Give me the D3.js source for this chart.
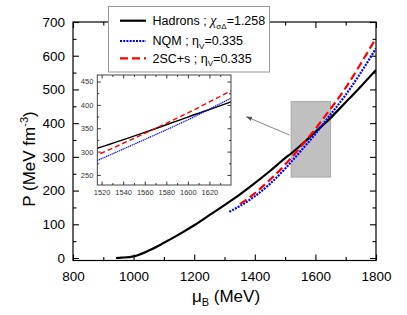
<!DOCTYPE html>
<html><head><meta charset="utf-8">
<script src="https://cdn.jsdelivr.net/npm/d3@7"></script>
<style>body{margin:0;background:#fff}svg{display:block;font-family:"Liberation Sans",Arial,sans-serif}</style>
</head><body><svg id="c" width="407" height="315"></svg>
<script>
// ---- data ----
const hadronMu = [942,960,1000,1050,1100,1150,1200,1250,1300,1350,1400,1450,1500,1520,1560,1600,1638,1700,1750,1800];
const hadronP  = [0,1,5,22,45,70,97,127,157,188,222,258,296,310,341,374,405,462,509,558];
const nqmMu    = [1316,1350,1400,1450,1500,1520,1560,1600,1638,1700,1750,1800];
const nqmP     = [137,154,183,220,265,285,326,368,412,484,550,622];
const scMu     = [1351,1400,1450,1500,1520,1560,1600,1638,1700,1750,1800];
const scP      = [160,192,232,277,297,339,383,428,505,577,652];
const xTicks   = [800,1000,1200,1400,1600,1800];
const yTicks   = [0,100,200,300,400,500,600,700];
const insetXTicks = [1520,1540,1560,1580,1600,1620];
const insetYTicks = [250,300,350,400,450];
const zoomBox  = {mu:[1520,1650], p:[240,464]};
const seriesNames = ["Hadrons","NQM","2SC+s"];

const svg = d3.select("#c");
const L=73, R=376, T=22, B=260.5;
const x = d3.scaleLinear().domain([800,1800]).range([L,R]);
const y = d3.scaleLinear().domain([-7.4,700]).range([B,T]);

const series = [
  {name:seriesNames[0], mu:hadronMu, p:hadronP, color:"#000", dash:null, w:2.2, iw:1.4},
  {name:seriesNames[1], mu:nqmMu, p:nqmP, color:"#0000ff", dash:"2,1.2", w:2.2, iw:1.2},
  {name:seriesNames[2], mu:scMu, p:scP, color:"#ff0000", dash:"8,4", w:2.2, iw:1.4}
];

// frame
svg.append("rect").attr("x",L).attr("y",T).attr("width",R-L).attr("height",B-T)
  .attr("fill","none").attr("stroke","#000").attr("stroke-width",1.2);

function styleAxis(g, fs){
  g.select(".domain").remove();
  g.selectAll(".tick line").attr("stroke","#000").attr("stroke-width",1.1);
  g.selectAll("text").attr("font-size",fs).attr("fill","#000").attr("font-family","Liberation Sans, Arial, sans-serif");
}
// bottom
let g = svg.append("g").attr("transform",`translate(0,${B})`)
  .call(d3.axisBottom(x).tickValues(xTicks).tickSize(-6).tickPadding(11).tickFormat(d3.format("d")));
styleAxis(g,13.5);
g = svg.append("g").attr("transform",`translate(0,${B})`)
  .call(d3.axisBottom(x).tickValues(d3.range(900,1800,200)).tickSize(-3.5).tickFormat(""));
styleAxis(g,0);
// top
g = svg.append("g").attr("transform",`translate(0,${T})`)
  .call(d3.axisTop(x).tickValues(xTicks).tickSize(-6).tickFormat(""));
styleAxis(g,0);
g = svg.append("g").attr("transform",`translate(0,${T})`)
  .call(d3.axisTop(x).tickValues(d3.range(900,1800,200)).tickSize(-3.5).tickFormat(""));
styleAxis(g,0);
// left
g = svg.append("g").attr("transform",`translate(${L},0)`)
  .call(d3.axisLeft(y).tickValues(yTicks).tickSize(-6).tickPadding(8).tickFormat(d3.format("d")));
styleAxis(g,13.5);
g = svg.append("g").attr("transform",`translate(${L},0)`)
  .call(d3.axisLeft(y).tickValues(d3.range(50,700,100)).tickSize(-3.5).tickFormat(""));
styleAxis(g,0);
// right
g = svg.append("g").attr("transform",`translate(${R},0)`)
  .call(d3.axisRight(y).tickValues(yTicks).tickSize(-6).tickFormat(""));
styleAxis(g,0);
g = svg.append("g").attr("transform",`translate(${R},0)`)
  .call(d3.axisRight(y).tickValues(d3.range(50,700,100)).tickSize(-3.5).tickFormat(""));
styleAxis(g,0);

// zoom rectangle
svg.append("rect").attr("x",x(zoomBox.mu[0])).attr("y",y(zoomBox.p[1]))
  .attr("width",x(zoomBox.mu[1])-x(zoomBox.mu[0])).attr("height",y(zoomBox.p[0])-y(zoomBox.p[1]))
  .attr("fill","#c0c0c0").attr("stroke","#a8a8a8").attr("stroke-width",1);

// main curves
svg.append("clipPath").attr("id","mc").append("rect").attr("x",L).attr("y",T).attr("width",R-L).attr("height",B-T);
const mainLine = d3.line().x(d=>x(d[0])).y(d=>y(d[1])).curve(d3.curveMonotoneX);
series.forEach(s=>{
  svg.append("path").attr("clip-path","url(#mc)")
    .attr("d",mainLine(s.mu.map((m,i)=>[m,s.p[i]])))
    .attr("fill","none").attr("stroke",s.color).attr("stroke-width",s.w)
    .attr("stroke-dasharray",s.dash);
});

// arrow
const defs = svg.append("defs");
defs.append("marker").attr("id","ah").attr("viewBox","0 0 10 10").attr("refX",9).attr("refY",5)
  .attr("markerWidth",7).attr("markerHeight",7).attr("orient","auto-start-reverse")
  .append("path").attr("d","M0,1.5 L10,5 L0,8.5 Z").attr("fill","#555");
svg.append("line").attr("x1",289.5).attr("y1",135).attr("x2",246.5).attr("y2",116.8)
  .attr("stroke","#777").attr("stroke-width",0.9).attr("marker-end","url(#ah)");

// inset
const iL=97.3, iR=231, iT=75, iB=185;
const ix = d3.scaleLinear().domain([1516,1640]).range([iL,iR]);
const iy = d3.scaleLinear().domain([228.5,464]).range([iB,iT]);
svg.append("rect").attr("x",iL).attr("y",iT).attr("width",iR-iL).attr("height",iB-iT)
  .attr("fill","#fff").attr("stroke","none");
function styleInset(g, fs){
  g.select(".domain").remove();
  g.selectAll(".tick line").attr("stroke","#222").attr("stroke-width",0.9);
  g.selectAll("text").attr("font-size",fs).attr("fill","#333");
}
g = svg.append("g").attr("transform",`translate(0,${iB})`)
  .call(d3.axisBottom(ix).tickValues(insetXTicks).tickSize(-3.5).tickPadding(5).tickFormat(d3.format("d")));
styleInset(g,7.5);
g = svg.append("g").attr("transform",`translate(0,${iB})`)
  .call(d3.axisBottom(ix).tickValues(d3.range(1530,1640,20)).tickSize(-2).tickFormat(""));
styleInset(g,0);
g = svg.append("g").attr("transform",`translate(0,${iT})`)
  .call(d3.axisTop(ix).tickValues(insetXTicks).tickSize(-3.5).tickFormat(""));
styleInset(g,0);
g = svg.append("g").attr("transform",`translate(0,${iT})`)
  .call(d3.axisTop(ix).tickValues(d3.range(1530,1640,20)).tickSize(-2).tickFormat(""));
styleInset(g,0);
g = svg.append("g").attr("transform",`translate(${iL},0)`)
  .call(d3.axisLeft(iy).tickValues(insetYTicks).tickSize(-3.5).tickPadding(4).tickFormat(d3.format("d")));
styleInset(g,7.5);
g = svg.append("g").attr("transform",`translate(${iL},0)`)
  .call(d3.axisLeft(iy).tickValues(d3.range(275,464,50)).tickSize(-2).tickFormat(""));
styleInset(g,0);
g = svg.append("g").attr("transform",`translate(${iR},0)`)
  .call(d3.axisRight(iy).tickValues(insetYTicks).tickSize(-3.5).tickFormat(""));
styleInset(g,0);
g = svg.append("g").attr("transform",`translate(${iR},0)`)
  .call(d3.axisRight(iy).tickValues(d3.range(275,464,50)).tickSize(-2).tickFormat(""));
styleInset(g,0);

svg.append("clipPath").attr("id","ic").append("rect").attr("x",iL).attr("y",iT).attr("width",iR-iL).attr("height",iB-iT);
const insetLine = d3.line().x(d=>ix(d[0])).y(d=>iy(d[1])).curve(d3.curveMonotoneX);
const insetDash = [null,"1.3,0.7","5,3"];
series.forEach((s,k)=>{
  svg.append("path").attr("clip-path","url(#ic)")
    .attr("d",insetLine(s.mu.map((m,i)=>[m,s.p[i]])))
    .attr("fill","none").attr("stroke",s.color).attr("stroke-width",s.iw)
    .attr("stroke-dasharray",insetDash[k]);
});
svg.append("rect").attr("x",iL).attr("y",iT).attr("width",iR-iL).attr("height",iB-iT)
  .attr("fill","none").attr("stroke","#333").attr("stroke-width",0.9);

// legend
const lg = svg.append("g");
lg.append("rect").attr("x",108.5).attr("y",6.5).attr("width",161).attr("height",65.5)
  .attr("fill","#fff").attr("stroke","#999").attr("stroke-width",1);
const rowsY = [20.7,41,58.3];
const legendLabels = [
  [["Hadrons ; ",0,null],["χ",0,"italic"],["σΔ",1,null],["=1.258",-1,null]],
  [["NQM ; ",0,null],["η",0,null],["V",1,null],["=0.335",-1,null]],
  [["2SC+s ; ",0,null],["η",0,null],["V",1,null],["=0.335",-1,null]]
];
series.forEach((s,k)=>{
  lg.append("line").attr("x1",120).attr("x2",146).attr("y1",rowsY[k]).attr("y2",rowsY[k])
    .attr("stroke",s.color).attr("stroke-width",2.2).attr("stroke-dasharray",s.dash);
  const t = lg.append("text").attr("x",152.5).attr("y",rowsY[k]+4.3).attr("font-size",12.5).attr("fill","#000");
  legendLabels[k].forEach(([txt,sub,st])=>{
    const ts = t.append("tspan").text(txt);
    if(sub===1) ts.attr("font-size",8).attr("dy",3.5);
    if(sub===-1) ts.attr("dy",-3.5);
    if(st) ts.attr("font-style",st).attr("font-family","Liberation Serif, serif").attr("font-size",14);
  });
});

// axis titles
const xt = svg.append("text").attr("x",226).attr("y",302).attr("text-anchor","middle")
  .attr("font-size",17).attr("fill","#000");
xt.append("tspan").text("μ");
xt.append("tspan").text("B").attr("font-size",11).attr("dy",4);
xt.append("tspan").text(" (MeV)").attr("dy",-4);

const yt = svg.append("text").attr("transform","translate(34.5,159) rotate(-90)")
  .attr("text-anchor","middle").attr("font-size",17).attr("fill","#000");
yt.append("tspan").text("P (MeV fm");
yt.append("tspan").text("-3").attr("font-size",11).attr("dy",-7);
yt.append("tspan").text(")").attr("dy",7);
</script></body></html>
